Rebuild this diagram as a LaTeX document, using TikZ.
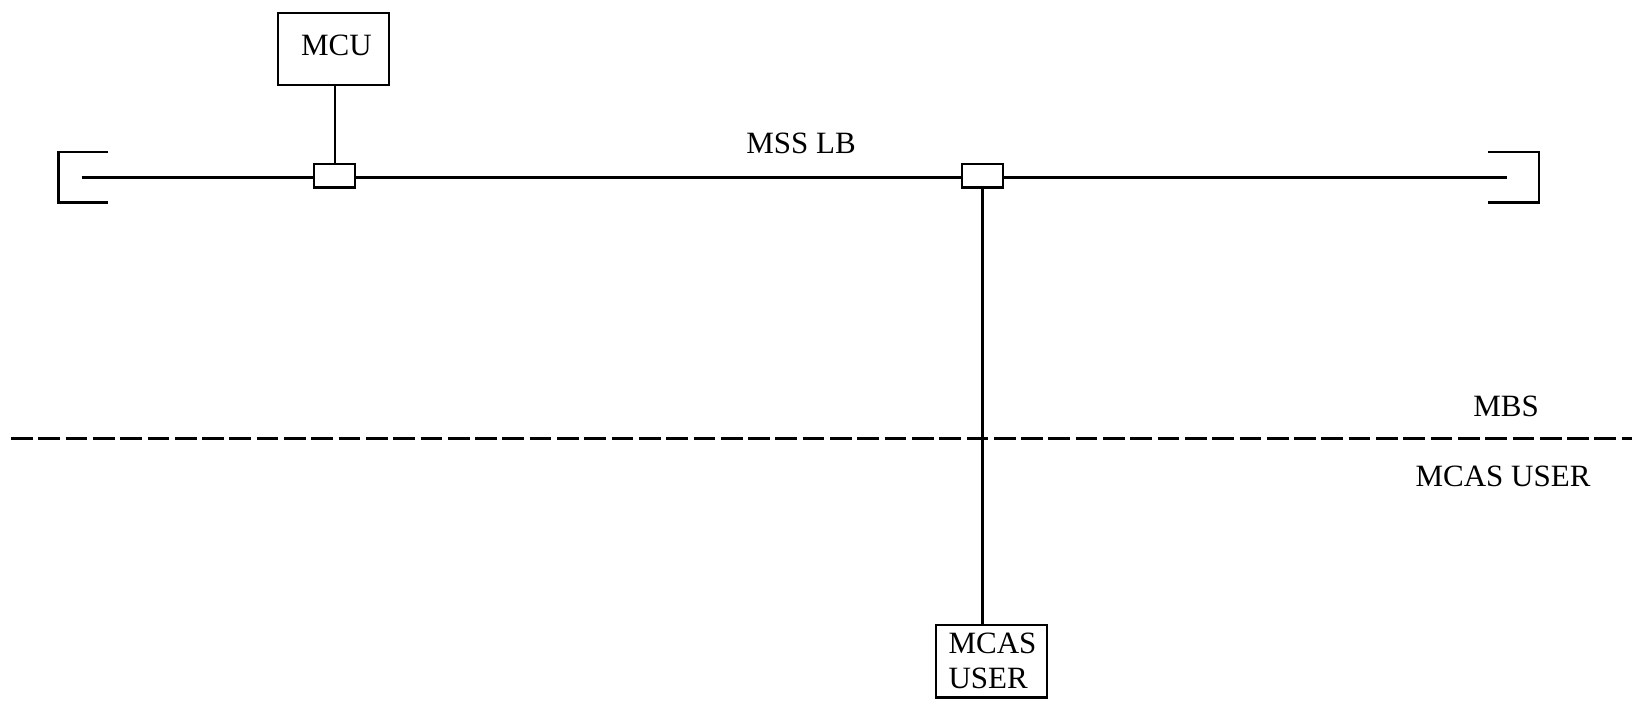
\documentclass[tikz,border=0pt]{standalone}
\usepackage{fontspec}
\setmainfont{Liberation Serif}
\begin{document}
\begin{tikzpicture}[x=1pt,y=-1pt,line width=2.4pt,
  every node/.style={font=\fontsize{31}{35}\selectfont},
  lbl/.style={anchor=base,inner sep=0},
  tap/.style={draw,minimum width=41pt,minimum height=23.5pt,inner sep=0},
  unit/.style={draw,inner sep=0}]
\useasboundingbox (0,0) rectangle (1648,702);
% units
\node[unit,minimum width=111pt,minimum height=72pt] (mcu) at (333.3,49.2) {};
\node[lbl] (mcutext) at (336.5,55) {MCU};
\node[tap] (t1) at (334.7,175.8) {};
\node[tap] (t2) at (982.5,175.7) {};
\node[unit,minimum width=111pt,minimum height=72.3pt,text width=86pt,align=left] (user) at (991.5,661.2) {MCAS\\USER};
% bus ends
\coordinate (busL) at (81.7,177.3);
\coordinate (busR) at (1506.7,177.3);
\draw (busL) -- (t1.west |- busL);
\draw (t1.east |- busL) -- (t2.west |- busL);
\draw (t2.east |- busR) -- (busR);
% terminators
\draw (108.3,151.7) -- (58.3,151.7) -- (58.3,202.3) -- (108.3,202.3);
\draw (1488.3,151.7) -- (1538.7,151.7) -- (1538.7,202.3) -- (1488.3,202.3);
% stubs
\draw (mcu.south -| t1.north) -- (t1.north);
\draw (t2.south) -- (t2.south |- user.north);
% boundary
\coordinate (dL) at (11,438.5);
\coordinate (dR) at (1632,438.5);
\draw[dash pattern=on 21.7pt off 5.6pt] (dL) -- (dR);
% labels
\node[lbl] (mss) at (801,153) {MSS LB};
\node[lbl] (mbs) at (1506,416) {MBS};
\node[lbl] (mcas) at (1503,486) {MCAS USER};
\end{tikzpicture}
\end{document}
